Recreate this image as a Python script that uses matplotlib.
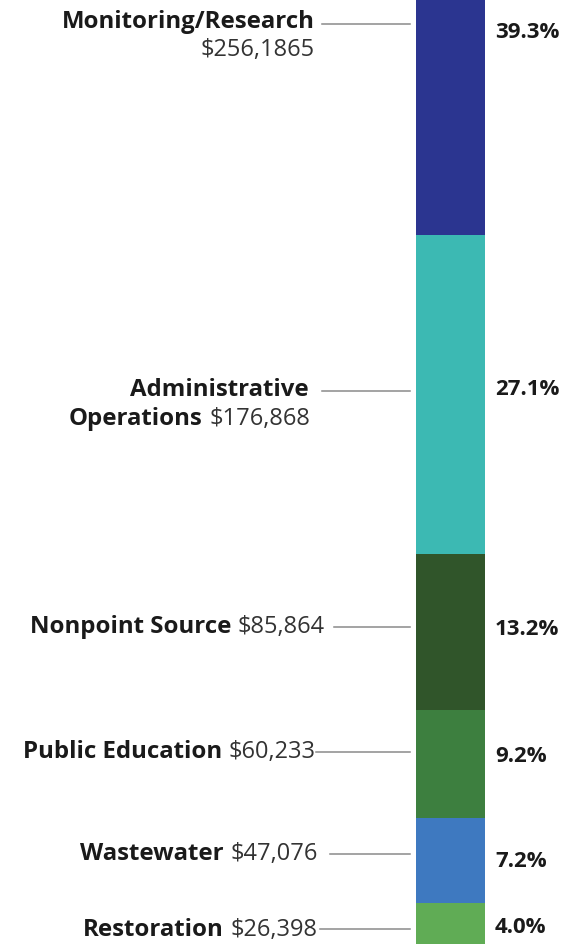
import matplotlib
matplotlib.use('Agg')
import matplotlib.pyplot as plt
from matplotlib import transforms

# data, bottom segment first
categories = ['Restoration', 'Wastewater', 'Public Education', 'Nonpoint Source',
              'Administrative Operations', 'Monitoring/Research']
amounts = ['$26,398', '$47,076', '$60,233', '$85,864', '$176,868', '$256,1865']
shares = [4.0, 7.2, 9.2, 13.2, 27.1, 39.3]
pct_labels = ['4.0%', '7.2%', '9.2%', '13.2%', '27.1%', '39.3%']
colors = ['#60ac55', '#3e79c0', '#3d7f3f', '#30552a', '#3cb9b3', '#2b3590']

# layout (pixel rows of the labels, from top of the figure)
name_rows = [930, 854, 752, 627, 390, 22]
line_rows = [930, 855, 753, 628, 392, 25]
pct_rows = [928, 862, 757, 630, 390, 33]
text_ends = [318, 318, 316, 325, 310, 315]
line_starts = [320, 330, 316, 334, 322, 322]

plt.rcParams['font.family'] = 'Open Sans'
W, H = 570, 945
fig = plt.figure(figsize=(W / 100, H / 100), dpi=100)
ax = fig.add_axes([0, 0, 1, 1])
ax.set_xlim(0, W)
ax.set_ylim(0.51, 80.73)
ax.axis('off')

bottom = 0
for share, col in zip(shares, colors):
    ax.bar(450.5, share, width=69, bottom=bottom, color=col, edgecolor='none')
    bottom += share

tr = transforms.blended_transform_factory(ax.transData, ax.transAxes)
fig.canvas.draw()
renderer = fig.canvas.get_renderer()
fs = 17
bfs = 17.3
pfs = 16
ink = '#1a1a1a'


def mixed_line(x_end, row, bold, regular):
    y = 1 - row / H
    t = ax.text(x_end, y, regular, transform=tr, ha='right', va='center',
                fontsize=fs, color='#333333')
    if bold:
        w = t.get_window_extent(renderer).width + 7
        off = transforms.offset_copy(tr, fig=fig, x=-w, y=0, units='dots')
        ax.text(x_end, y, bold, transform=off, ha='right', va='center',
                fontsize=bfs, fontweight='bold', color=ink)


for i, cat in enumerate(categories):
    if cat == 'Monitoring/Research':
        ax.text(text_ends[i], 1 - name_rows[i] / H, cat, transform=tr, ha='right',
                va='center', fontsize=bfs, fontweight='bold', color=ink)
        mixed_line(text_ends[i], name_rows[i] + 28, '', amounts[i])
    elif cat == 'Administrative Operations':
        first, second = cat.split(' ')
        ax.text(text_ends[i] - 1, 1 - name_rows[i] / H, first, transform=tr, ha='right',
                va='center', fontsize=bfs, fontweight='bold', color=ink)
        mixed_line(text_ends[i], name_rows[i] + 29, second, amounts[i])
    else:
        mixed_line(text_ends[i], name_rows[i], cat, amounts[i])
    ly = 1 - line_rows[i] / H
    ax.plot([line_starts[i], 410], [ly, ly], transform=tr, color='#8a8a8a', lw=1.1)
    ax.text(495, 1 - pct_rows[i] / H, pct_labels[i], transform=tr, ha='left',
            va='center', fontsize=pfs, fontweight='bold', color=ink)

fig.savefig('out.png', dpi=100)
